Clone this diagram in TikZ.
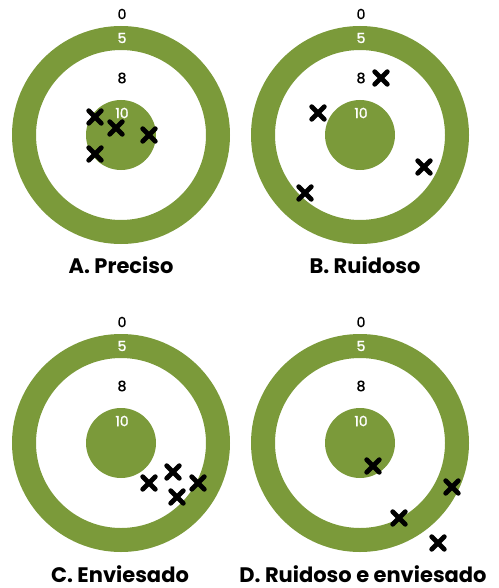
\documentclass[tikz,border=0pt]{standalone}
\usepackage{fontspec}
\setmainfont{Poppins}
\newfontfamily\digfont[FakeBold=1.6]{Poppins}
\definecolor{tgreen}{RGB}{123,154,58}
\tikzset{
  ring/.style={fill=tgreen, even odd rule},
  disc/.style={fill=tgreen},
  numlab/.style={font=\digfont\fontsize{14}{14}\selectfont, inner sep=0pt},
  whitelab/.style={numlab, text=white},
  title/.style={font=\bfseries\fontsize{21}{21}\selectfont, inner sep=0pt, anchor=base},
  xstroke/.style={line width=4.8pt, line cap=round, black},
  xmark/.pic={\draw[xstroke] (-6.3,-6.3) -- (6.3,6.3) (-6.3,6.3) -- (6.3,-6.3);},
  target/.pic={
    \fill[ring] (0,0) circle (109) (0,0) circle (85);
    \fill[disc] (0,0) circle (35);
    \node[numlab] (-z) at (1,-121) {0};
    \node[whitelab] (-f) at (1,-97) {5};
    \node[numlab] (-e) at (1,-57) {8};
    \node[whitelab] (-t) at (1,-22) {10};
  }
}
\begin{document}
\begin{tikzpicture}[x=1pt,y=-1pt]
\useasboundingbox (0,0) rectangle (498,588);
% A
\pic (A) at (121,135) {target};
\pic at (95,117) {xmark};
\pic at (116,128) {xmark};
\pic at (149,135) {xmark};
\pic at (95,154) {xmark};
\node[title] (tA) at (121,273) {A. Preciso};
% B
\pic (B) at (360,135) {target};
\pic at (381,78) {xmark};
\pic at (318,113) {xmark};
\pic at (424,167) {xmark};
\pic at (305,193) {xmark};
\node[title] (tB) at (365,273) {B. Ruidoso};
% C
\pic (C) at (121,443) {target};
\pic at (149,483) {xmark};
\pic at (173,472) {xmark};
\pic at (198,483) {xmark};
\pic at (177,497) {xmark};
\node[title] (tC) at (120,582) {C. Enviesado};
% D
\pic (D) at (360,443) {target};
\pic at (373,466) {xmark};
\pic at (452,487) {xmark};
\pic at (399,518) {xmark};
\pic at (438,543) {xmark};
\node[title] (tD) at (363,582) {D. Ruidoso e enviesado};
\end{tikzpicture}
\end{document}
